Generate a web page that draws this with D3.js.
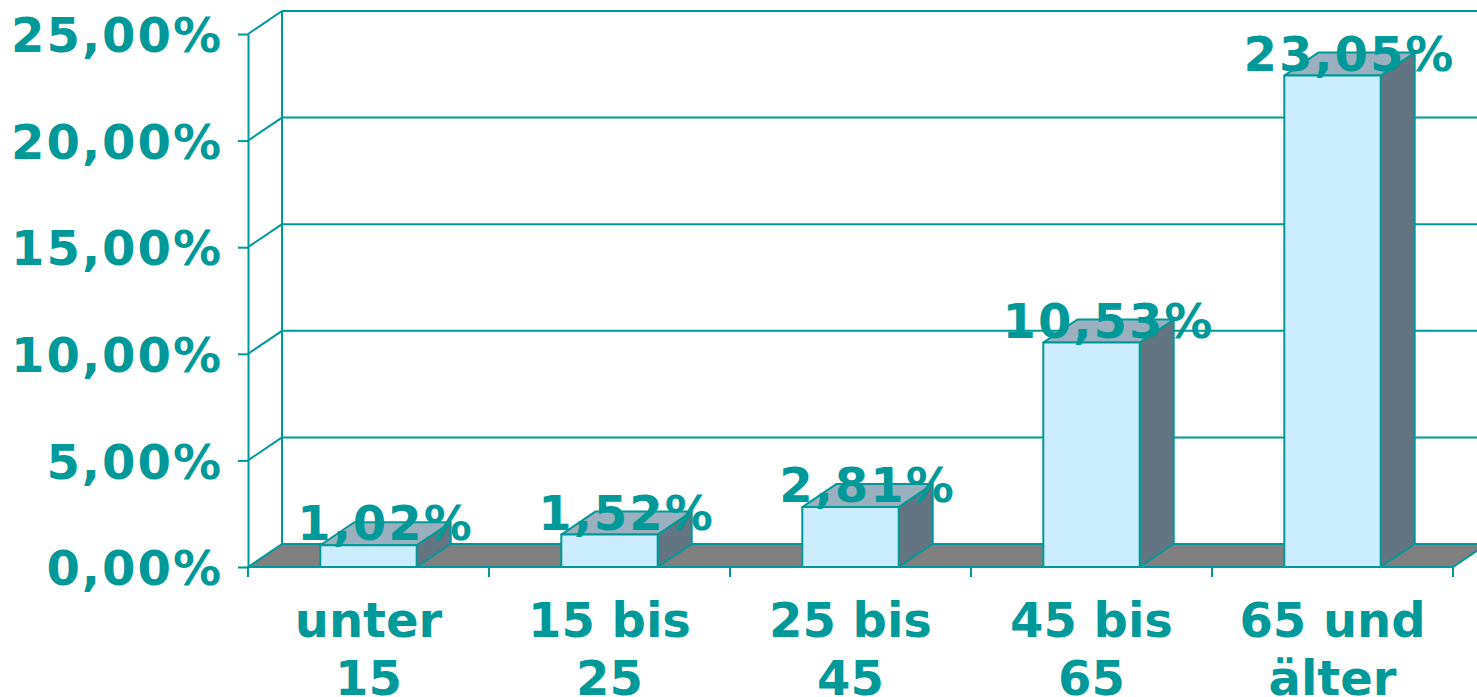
<!DOCTYPE html>
<html>
<head>
<meta charset="utf-8">
<script src="https://cdn.jsdelivr.net/npm/d3@7"></script>
<style>
  body { margin: 0; background: #fff; }
  svg { display: block; }
</style>
</head>
<body>
<div id="chart"></div>
<script>
// data
const categories = ["unter 15", "15 bis 25", "25 bis 45", "45 bis 65", "65 und älter"];
const categoryLines = [["unter", "15"], ["15 bis", "25"], ["25 bis", "45"], ["45 bis", "65"], ["65 und", "älter"]];
const values = [1.02, 1.52, 2.81, 10.53, 23.05];
const yTicks = [0, 5, 10, 15, 20, 25];

const W = 1477, H = 697;
const teal = "#009999";
const font = "'DejaVu Sans', Verdana, sans-serif";
const depth = { dx: 34, dy: -23 };

const de = d3.formatLocale({ decimal: ",", thousands: ".", grouping: [3], currency: ["", "€"] });
const pct = v => de.format(".2f")(v) + "%";

const svg = d3.select("#chart").append("svg")
  .attr("width", W).attr("height", H);

const x = d3.scaleBand()
  .domain(categories)
  .range([248, 1453])
  .paddingInner(0.6)
  .paddingOuter(0.3);

const y = d3.scaleLinear()
  .domain([0, 25])
  .range([567, 34]);

const x0 = x.range()[0], x1 = x.range()[1];
const poly = pts => pts.map(p => p.join(",")).join(" ");

// back wall gridlines
const walls = svg.append("g").attr("stroke", teal).attr("stroke-width", 2).attr("fill", "none");
yTicks.filter(t => t > 0).forEach(t => {
  walls.append("line")
    .attr("x1", x0 + depth.dx).attr("x2", W + 10)
    .attr("y1", y(t) + depth.dy).attr("y2", y(t) + depth.dy);
  walls.append("line")
    .attr("x1", x0).attr("x2", x0 + depth.dx)
    .attr("y1", y(t)).attr("y2", y(t) + depth.dy);
});
walls.append("line")
  .attr("x1", x0 + depth.dx).attr("x2", x0 + depth.dx)
  .attr("y1", y(25) + depth.dy).attr("y2", y(0) + depth.dy);

// floor
svg.append("polygon")
  .attr("points", poly([[x0, y(0)], [x1, y(0)], [x1 + depth.dx, y(0) + depth.dy], [x0 + depth.dx, y(0) + depth.dy]]))
  .attr("fill", "#808080")
  .attr("stroke", teal).attr("stroke-width", 2);

// y axis
const yAxis = svg.append("g")
  .attr("transform", `translate(${x0},0)`)
  .call(d3.axisLeft(y).tickValues(yTicks).tickSize(10).tickSizeOuter(0).tickPadding(15).tickFormat(pct));
yAxis.selectAll("path, line").attr("stroke", teal).attr("stroke-width", 2);
yAxis.selectAll("text")
  .attr("fill", teal)
  .attr("dy", "0.37em")
  .style("font-family", font)
  .style("font-weight", "bold")
  .style("font-size", "48px")
  .style("letter-spacing", "2px");

// x axis line and ticks at category boundaries
const xa = svg.append("g").attr("stroke", teal).attr("stroke-width", 2);
xa.append("line").attr("x1", x0).attr("x2", x1).attr("y1", y(0)).attr("y2", y(0));
d3.range(categories.length + 1).forEach(i => {
  const bx = x0 + i * x.step();
  xa.append("line").attr("x1", bx).attr("x2", bx).attr("y1", y(0)).attr("y2", y(0) + 10);
});

// bars
const bars = svg.selectAll("g.bar")
  .data(categories.map((c, i) => ({ c, v: values[i] })))
  .join("g")
  .attr("class", "bar")
  .attr("stroke", teal).attr("stroke-width", 2).attr("stroke-linejoin", "round");

bars.append("polygon")
  .attr("fill", "#627580")
  .attr("points", d => {
    const r = x(d.c) + x.bandwidth(), t = y(d.v), b = y(0);
    return poly([[r, b], [r, t], [r + depth.dx, t + depth.dy], [r + depth.dx, b + depth.dy]]);
  });
bars.append("polygon")
  .attr("fill", "#9AB0BF")
  .attr("points", d => {
    const l = x(d.c), r = l + x.bandwidth(), t = y(d.v);
    return poly([[l, t], [r, t], [r + depth.dx, t + depth.dy], [l + depth.dx, t + depth.dy]]);
  });
bars.append("rect")
  .attr("fill", "#CCECFF")
  .attr("x", d => x(d.c))
  .attr("y", d => y(d.v))
  .attr("width", x.bandwidth())
  .attr("height", d => y(0) - y(d.v));

// value labels
svg.selectAll("text.val")
  .data(categories.map((c, i) => ({ c, v: values[i] })))
  .join("text")
  .attr("class", "val")
  .attr("x", d => x(d.c) + x.bandwidth() / 2 + depth.dx / 2)
  .attr("y", d => y(d.v) - 5)
  .attr("text-anchor", "middle")
  .attr("fill", teal)
  .style("font-family", font)
  .style("font-weight", "bold")
  .style("font-size", "48px")
  .style("letter-spacing", "2px")
  .text(d => pct(d.v));

// category labels
const cl = svg.selectAll("text.cat")
  .data(categories.map((c, i) => ({ c, lines: categoryLines[i] })))
  .join("text")
  .attr("class", "cat")
  .attr("text-anchor", "middle")
  .attr("fill", teal)
  .style("font-family", font)
  .style("font-weight", "bold")
  .style("font-size", "48px");
cl.selectAll("tspan")
  .data(d => d.lines.map((t, j) => ({ t, j, c: d.c })))
  .join("tspan")
  .attr("x", d => x(d.c) + x.bandwidth() / 2)
  .attr("y", d => 637 + d.j * 58)
  .text(d => d.t);
</script>
</body>
</html>
